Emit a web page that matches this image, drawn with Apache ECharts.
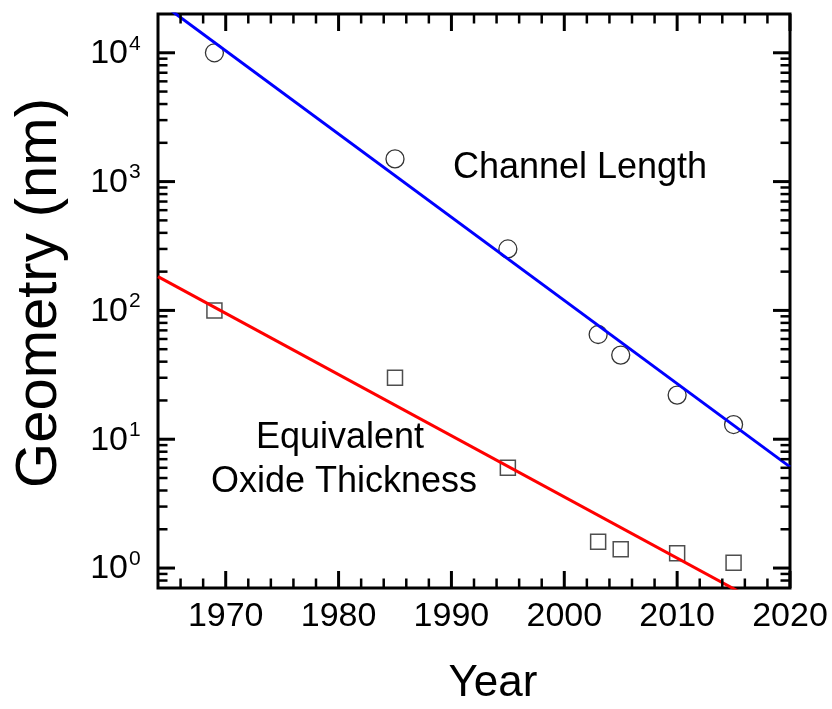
<!DOCTYPE html>
<html>
<head>
<meta charset="utf-8">
<script src="https://cdn.jsdelivr.net/npm/echarts@6/dist/echarts.min.js"></script>
<style>
  html, body { margin: 0; padding: 0; background: #fff; }
  #chart { width: 832px; height: 709px; }
</style>
</head>
<body>
<div id="chart"></div>
<script>
// Measured device geometries by year
const years = [1969, 1985, 1995, 2003, 2005, 2010, 2015];
const channelLength = [10000, 1500, 300, 65, 45, 22, 13];
const oxideThickness = [100, 30, 6, 1.6, 1.4, 1.3, 1.1];

// Exponential trend lines (end points over the plotted span)
const fitYears = [1964, 2020];
const channelFit = [25300, 6.1];
const oxideFit = [183, 0.4];

// Axis ranges and ticks
const xMin = 1964, xMax = 2020;
const yMin = 0.7, yMax = 20000;
const xMajorYears = [1970, 1980, 1990, 2000, 2010, 2020];
const xMinorYears = [1966, 1968, 1972, 1974, 1976, 1978, 1982, 1984, 1986, 1988,
                     1992, 1994, 1996, 1998, 2002, 2004, 2006, 2008, 2012, 2014, 2016, 2018];
const yMajorTicks = [1, 10, 100, 1000, 10000];
const yExponents = ['0', '1', '2', '3', '4'];
const yMinorTicks = [0.8, 0.9,
  2, 3, 4, 5, 6, 7, 8, 9,
  20, 30, 40, 50, 60, 70, 80, 90,
  200, 300, 400, 500, 600, 700, 800, 900,
  2000, 3000, 4000, 5000, 6000, 7000, 8000, 9000];

const FONT = "'Liberation Sans', Arial, Helvetica, sans-serif";
const MAJOR_LEN = 17, MINOR_LEN = 9.5;

const chart = echarts.init(document.getElementById('chart'), null, { renderer: 'canvas' });

function tickLine(x1, y1, x2, y2, major) {
  return { type: 'line', shape: { x1, y1, x2, y2 },
           style: { stroke: '#000', lineWidth: major ? 3 : 2.5 } };
}

// Inward ticks on the left and right frame edges
function renderYTicks(params, api) {
  const v = api.value(1), major = api.value(2) === 1;
  const len = major ? MAJOR_LEN : MINOR_LEN;
  const l = api.coord([xMin, v]);
  const r = api.coord([xMax, v]);
  return { type: 'group', children: [
    tickLine(l[0], l[1], l[0] + len, l[1], major),
    tickLine(r[0], r[1], r[0] - len, r[1], major)
  ]};
}

// Inward ticks on the bottom and top frame edges
function renderXTicks(params, api) {
  const yr = api.value(0), major = api.value(2) === 1;
  const len = major ? MAJOR_LEN : MINOR_LEN;
  const b = api.coord([yr, yMin]);
  const t = api.coord([yr, yMax]);
  return { type: 'group', children: [
    tickLine(b[0], b[1], b[0], b[1] - len, major),
    tickLine(t[0], t[1], t[0], t[1] + len, major)
  ]};
}

// Power-of-ten labels with superscript exponents
function renderYLabels(params, api) {
  const p = api.coord([xMin, api.value(1)]);
  const exp = yExponents[api.value(2)];
  return { type: 'group', children: [
    { type: 'text', style: { text: '10', x: p[0] - 30, y: p[1] + 1, align: 'right', verticalAlign: 'middle',
        fontSize: 34, fontFamily: FONT, fill: '#000' } },
    { type: 'text', style: { text: exp, x: p[0] - 29, y: p[1] - 9, align: 'left', verticalAlign: 'middle',
        fontSize: 21, fontFamily: FONT, fill: '#000' } }
  ]};
}

const option = {
  backgroundColor: '#fff',
  animation: false,
  grid: { left: 158, top: 14, width: 632, height: 574, show: true,
          borderColor: '#000', borderWidth: 3, backgroundColor: 'transparent', containLabel: false },
  xAxis: {
    type: 'value', min: xMin, max: xMax, interval: 2,
    axisLine: { show: false }, axisTick: { show: false }, splitLine: { show: false },
    axisLabel: { formatter: v => (v % 10 === 0 ? String(v) : ''), fontSize: 34, fontFamily: FONT,
                 color: '#000', margin: 12 }
  },
  yAxis: {
    type: 'log', logBase: 10, min: yMin, max: yMax,
    axisLine: { show: false }, axisTick: { show: false }, splitLine: { show: false },
    axisLabel: { show: false }
  },
  graphic: [
    { type: 'text', x: 580, y: 168, style: { text: 'Channel Length', fontSize: 36, fontFamily: FONT,
        fill: '#000', align: 'center', verticalAlign: 'middle' } },
    { type: 'text', x: 340, y: 438, style: { text: 'Equivalent', fontSize: 36, fontFamily: FONT,
        fill: '#000', align: 'center', verticalAlign: 'middle' } },
    { type: 'text', x: 344, y: 482, style: { text: 'Oxide Thickness', fontSize: 36, fontFamily: FONT,
        fill: '#000', align: 'center', verticalAlign: 'middle' } },
    { type: 'text', x: 493, y: 684, style: { text: 'Year', fontSize: 44, fontFamily: FONT,
        fill: '#000', align: 'center', verticalAlign: 'middle' } },
    { type: 'text', x: 40, y: 293, rotation: Math.PI / 2, style: { text: 'Geometry (nm)', fontSize: 58,
        fontFamily: FONT, fill: '#000', align: 'center', verticalAlign: 'middle' } }
  ],
  series: [
    { type: 'custom', name: 'yTicks', renderItem: renderYTicks, silent: true, z: 5,
      data: [...yMajorTicks.map(v => [xMin, v, 1]), ...yMinorTicks.map(v => [xMin, v, 0])] },
    { type: 'custom', name: 'xTicks', renderItem: renderXTicks, silent: true, z: 5,
      data: [...xMajorYears.map(y => [y, yMin, 1]), ...xMinorYears.map(y => [y, yMin, 0])] },
    { type: 'custom', name: 'yLabels', renderItem: renderYLabels, silent: true, z: 5,
      data: yMajorTicks.map((v, i) => [xMin, v, i]) },
    { type: 'scatter', name: 'Channel Length', symbol: 'circle', symbolSize: 18, silent: true, z: 3,
      itemStyle: { color: 'rgba(0,0,0,0)', borderColor: '#000', borderWidth: 1.3 },
      data: years.map((y, i) => [y, channelLength[i]]) },
    { type: 'scatter', name: 'Equivalent Oxide Thickness', symbol: 'rect', symbolSize: 15, silent: true, z: 3,
      itemStyle: { color: 'rgba(0,0,0,0)', borderColor: '#222', borderWidth: 1.5 },
      data: years.map((y, i) => [y, oxideThickness[i]]) },
    { type: 'line', name: 'Channel Length fit', showSymbol: false, symbol: 'none', silent: true, z: 4,
      clip: true, lineStyle: { color: '#0000ff', width: 3 },
      data: fitYears.map((y, i) => [y, channelFit[i]]) },
    { type: 'line', name: 'Oxide fit', showSymbol: false, symbol: 'none', silent: true, z: 4,
      clip: true, lineStyle: { color: '#ff0000', width: 3 },
      data: fitYears.map((y, i) => [y, oxideFit[i]]) }
  ]
};

chart.setOption(option);
</script>
</body>
</html>
